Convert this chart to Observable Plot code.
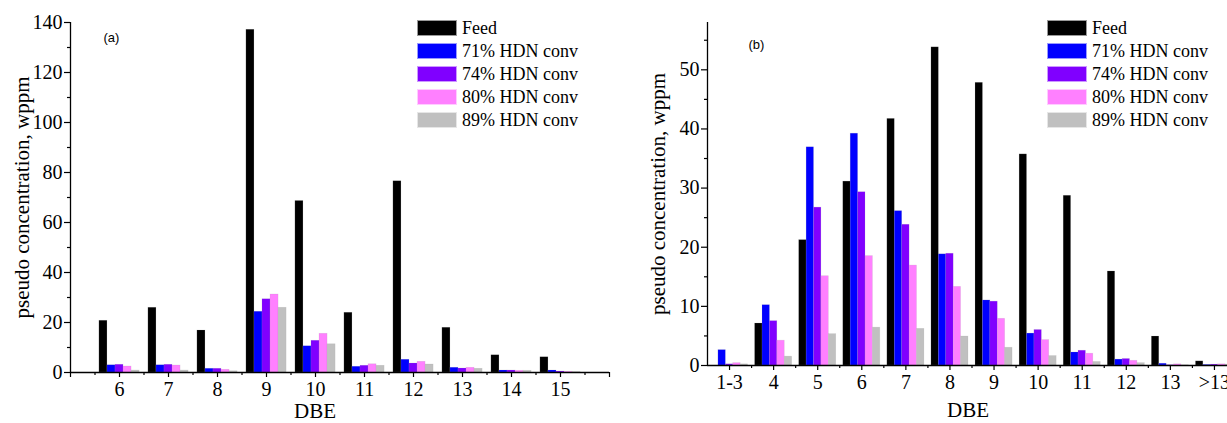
<!DOCTYPE html>
<html>
<head>
<meta charset="utf-8">
<script src="https://cdn.jsdelivr.net/npm/d3@7"></script>
<script src="https://cdn.jsdelivr.net/npm/@observablehq/plot@0.6"></script>
<style>
  body { margin: 0; background: #fff; }
  #fig { position: relative; width: 1227px; height: 423px; overflow: hidden; background: #fff; }
  .panel { position: absolute; top: 0; }
  .legend { position: absolute; font-family: "Liberation Serif", "Times New Roman", serif; font-size: 18px; color: #000; line-height: 1; }
  .legend .row { display: flex; align-items: center; height: 23.2px; white-space: nowrap; }
  .legend .sw { width: 40px; height: 16px; margin-right: 5px; box-sizing: border-box; border: 1px solid rgba(255,255,255,0.6); }
</style>
</head>
<body>
<div id="fig"></div>
<script>
// Series shared by both panels
const series = ["Feed", "71% HDN conv", "74% HDN conv", "80% HDN conv", "89% HDN conv"];
const colors = ["#000000", "#0000ff", "#8000ff", "#ff80ff", "#c0c0c0"];

// Panel (a): pseudo concentration by DBE
const dbeA   = [6, 7, 8, 9, 10, 11, 12, 13, 14, 15];
const feedA  = [20.7, 25.9, 16.8, 137.1, 68.6, 23.9, 76.5, 17.9, 6.9, 6.1];
const hdn71A = [2.9, 2.9, 1.5, 24.3, 10.5, 2.3, 5.1, 1.9, 0.8, 0.8];
const hdn74A = [3.1, 3.1, 1.5, 29.3, 12.7, 2.7, 3.6, 1.6, 0.8, 0.4];
const hdn80A = [2.4, 2.8, 1.1, 31.2, 15.5, 3.3, 4.3, 1.9, 0.7, 0.3];
const hdn89A = [0.8, 0.8, 0.5, 25.9, 11.3, 2.7, 3.2, 1.5, 0.7, 0.2];

// Panel (b): pseudo concentration by DBE class
const dbeB   = ["1-3", "4", "5", "6", "7", "8", "9", "10", "11", "12", "13", ">13"];
const feedB  = [0, 7.1, 21.2, 31.1, 41.7, 53.8, 47.8, 35.7, 28.7, 15.9, 4.9, 0.7];
const hdn71B = [2.6, 10.2, 36.9, 39.2, 26.1, 18.8, 11.0, 5.4, 2.2, 1.0, 0.3, 0.1];
const hdn74B = [0.2, 7.5, 26.7, 29.3, 23.8, 18.9, 10.8, 6.0, 2.5, 1.1, 0.05, 0.15];
const hdn80B = [0.4, 4.2, 15.1, 18.5, 16.9, 13.3, 7.9, 4.3, 2.0, 0.8, 0.2, 0.2];
const hdn89B = [0.2, 1.5, 5.3, 6.4, 6.2, 4.9, 3.0, 1.6, 0.6, 0.4, 0.05, 0.15];

const yLabel = "pseudo concentration, wppm";
const xLabel = "DBE";

// long table: one row per (category, series)
function tidy(cats, cols, posOf) {
  const rows = [];
  cats.forEach((c, i) => cols.forEach((vals, j) => rows.push({cat: c, pos: posOf(c, i), j, series: series[j], value: vals[i]})));
  return rows;
}

// grouped bars on a linear x scale: each group is centred on its category
function groupedBars(rows, groupWidth) {
  const bw = groupWidth / series.length;
  return Plot.rectY(rows, {
    x1: d => d.pos - groupWidth / 2 + d.j * bw,
    x2: d => d.pos - groupWidth / 2 + (d.j + 1) * bw,
    y1: 0,
    y2: "value",
    fill: "series",
    stroke: "#9a9a9a",
    strokeOpacity: 0.25,
    strokeWidth: 0.6
  });
}

const serif = "Liberation Serif, Times New Roman, serif";

function panel({rows, xDomain, xMajor, xMinor, xFormat, yMax, yMajor, yMinor, width, height, margins, groupWidth, tag, tagDx, tagDy, yLabelDx, xLabelDx, xLabelDy}) {
  return Plot.plot({
    width, height,
    ...margins,
    style: {fontFamily: serif, fontSize: "20px", color: "#000", background: "transparent"},
    x: {domain: xDomain},
    y: {domain: [0, yMax]},
    color: {domain: series, range: colors},
    marks: [
      groupedBars(rows, groupWidth),
      Plot.ruleY([0], {stroke: "#000", strokeWidth: 1.3}),
      Plot.ruleX([xDomain[0]], {stroke: "#000", strokeWidth: 1.3}),
      Plot.axisY({ticks: yMajor, tickSize: 6, tickPadding: 2, label: null, strokeWidth: 1.2}),
      Plot.axisY({ticks: yMinor, tickSize: 3, tickFormat: () => "", label: null, strokeWidth: 1.2}),
      Plot.axisX({ticks: xMajor, tickSize: 5, tickPadding: 4, tickFormat: xFormat, label: null, strokeWidth: 1.2}),
      Plot.axisX({ticks: xMinor, tickSize: 3, tickFormat: () => "", label: null, strokeWidth: 1.2}),
      Plot.text([yLabel], {frameAnchor: "left", rotate: -90, dx: yLabelDx, textAnchor: "middle", lineAnchor: "middle", fontSize: 21, fontFamily: serif}),
      Plot.text([xLabel], {frameAnchor: "bottom", dx: xLabelDx, dy: xLabelDy, textAnchor: "middle", lineAnchor: "middle", fontSize: 21, fontFamily: serif}),
      Plot.text([tag], {frameAnchor: "top-left", dx: tagDx, dy: tagDy, textAnchor: "start", lineAnchor: "top", fontSize: 13, fontFamily: "Liberation Sans, Arial, sans-serif"})
    ]
  });
}

const fig = document.getElementById("fig");

// ---- panel (a)
const rowsA = tidy(dbeA, [feedA, hdn71A, hdn74A, hdn80A, hdn89A], c => c);
const plotA = panel({
  rows: rowsA,
  xDomain: [5, 16],
  xMajor: d3.range(5, 17),
  xMinor: d3.range(5.5, 16, 1),
  xFormat: d => dbeA.includes(d) ? String(d) : "",
  yMax: 140,
  yMajor: d3.range(0, 141, 20),
  yMinor: d3.range(10, 140, 20),
  width: 620, height: 423,
  margins: {marginLeft: 70, marginRight: 11, marginTop: 22, marginBottom: 51},
  groupWidth: 0.82,
  tag: "(a)", tagDx: 33, tagDy: 10,
  yLabelDx: -48, xLabelDx: -25, xLabelDy: 39
});
plotA.classList.add("panel");
plotA.style.left = "0px";
fig.appendChild(plotA);

// ---- panel (b)
const rowsB = tidy(dbeB, [feedB, hdn71B, hdn74B, hdn80B, hdn89B], (c, i) => i);
const plotB = panel({
  rows: rowsB,
  xDomain: [-0.5, 11.5],
  xMajor: d3.range(0, 12),
  xMinor: d3.range(0.5, 11.5, 1),
  xFormat: i => dbeB[i],
  yMax: 58,
  yMajor: d3.range(0, 51, 10),
  yMinor: d3.range(5, 58, 10),
  width: 625, height: 423,
  margins: {marginLeft: 87, marginRight: 9, marginTop: 22, marginBottom: 58},
  groupWidth: 0.84,
  tag: "(b)", tagDx: 41, tagDy: 17,
  yLabelDx: -49, xLabelDx: -4, xLabelDy: 45
});
plotB.classList.add("panel");
plotB.style.left = "620px";
fig.appendChild(plotB);

// ---- legends
function legend(left, top) {
  const div = document.createElement("div");
  div.className = "legend";
  div.style.left = left + "px";
  div.style.top = top + "px";
  series.forEach((s, j) => {
    const row = document.createElement("div");
    row.className = "row";
    const sw = document.createElement("span");
    sw.className = "sw";
    sw.style.background = colors[j];
    const label = document.createElement("span");
    label.textContent = s;
    row.append(sw, label);
    div.appendChild(row);
  });
  fig.appendChild(div);
}
legend(417, 16);
legend(1047, 16);
</script>
</body>
</html>
